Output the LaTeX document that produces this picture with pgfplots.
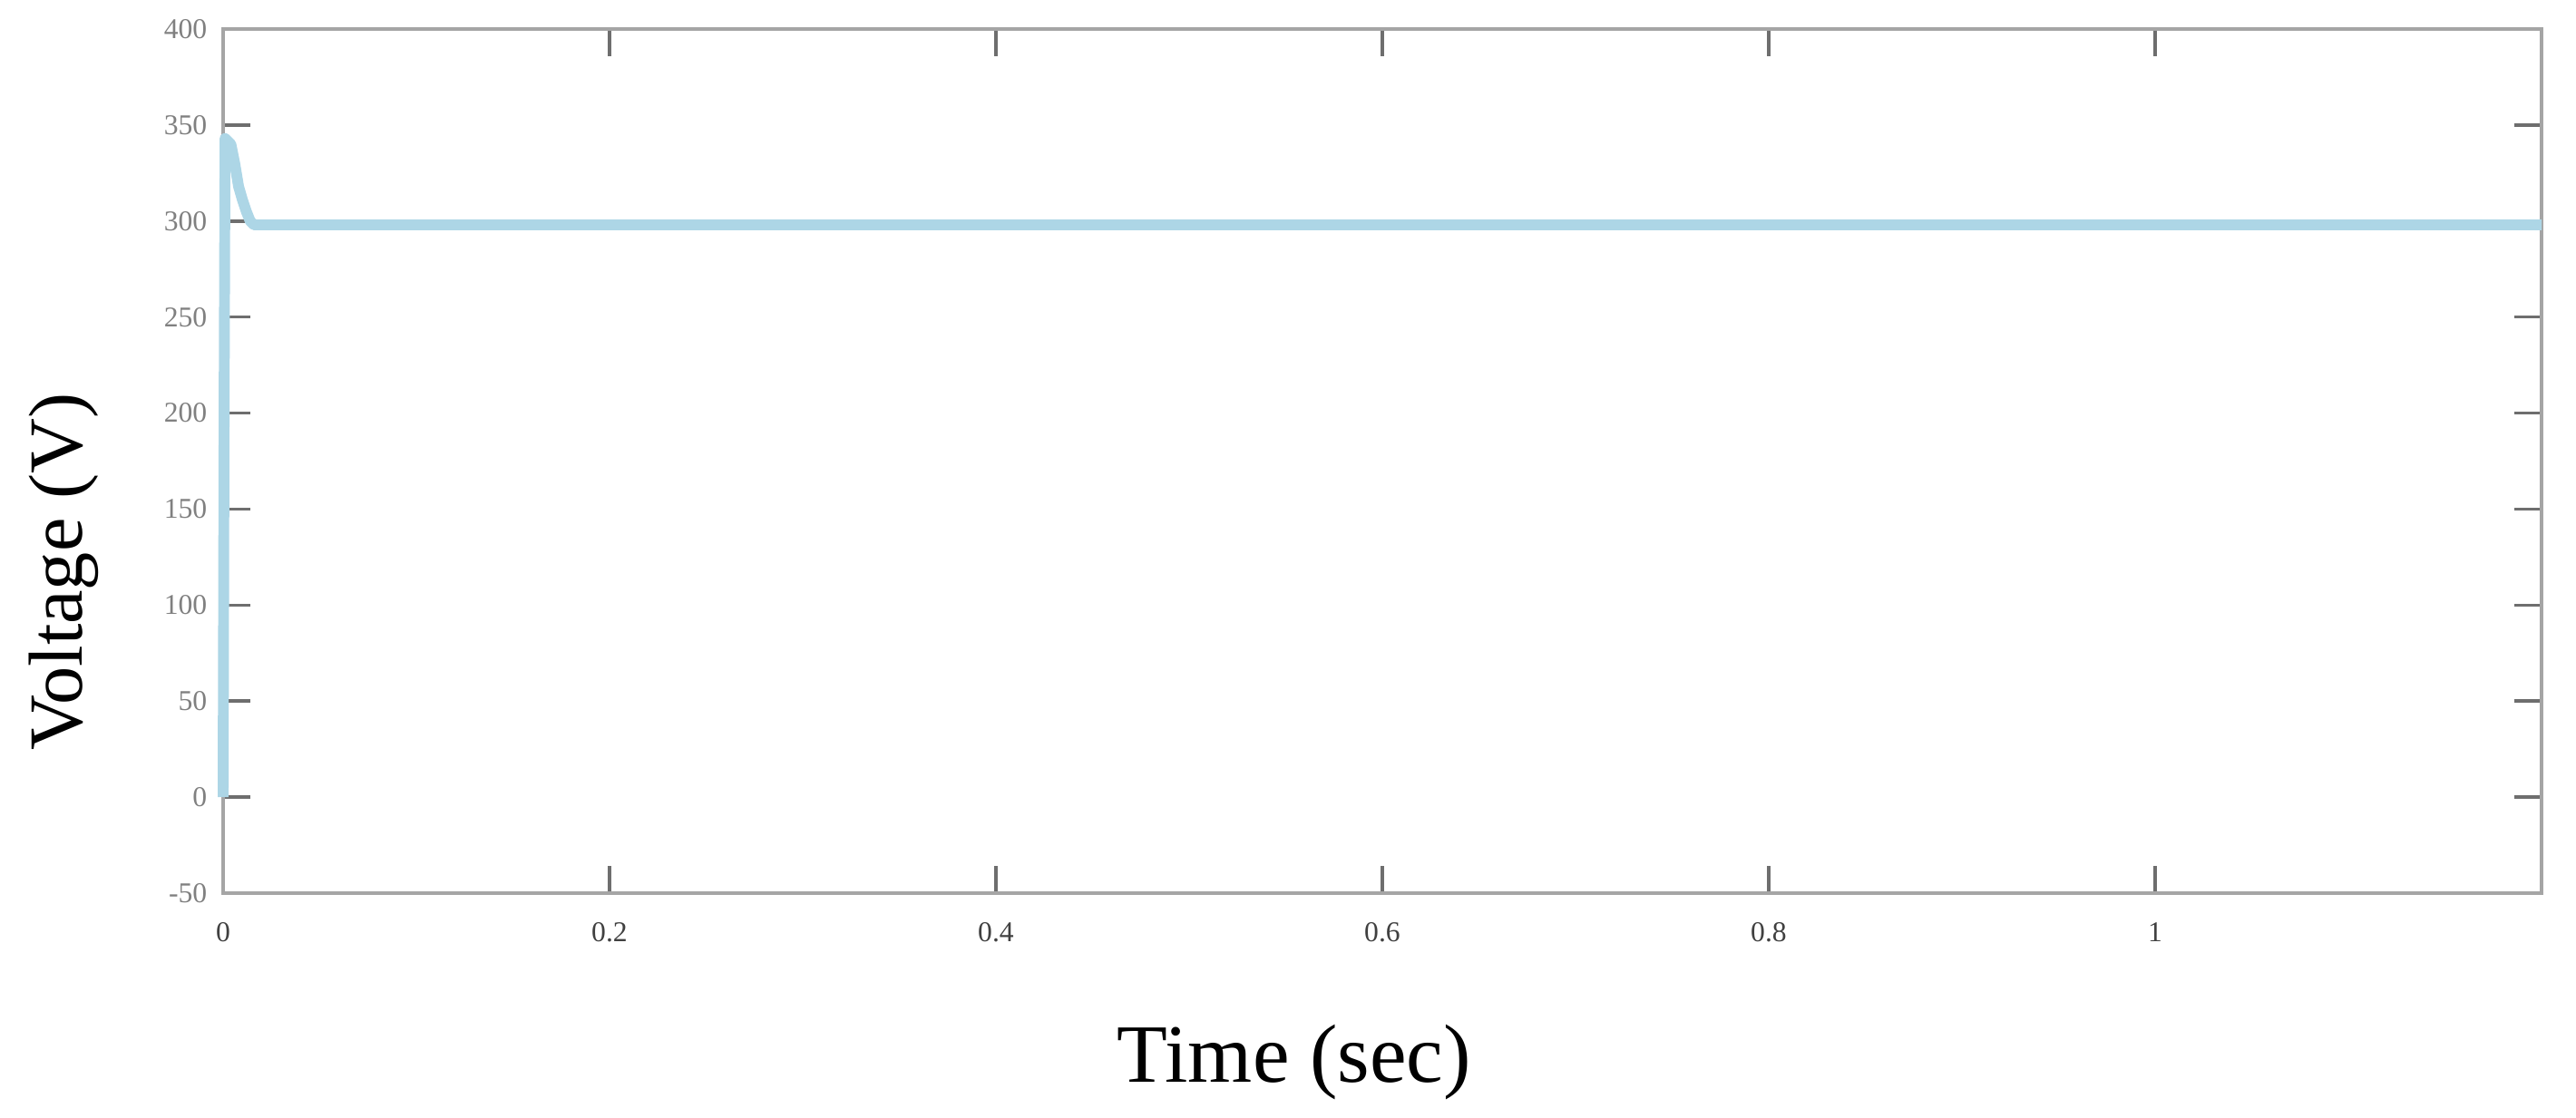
\documentclass[border=0pt]{standalone}
\usepackage{fontspec}
\setmainfont{Liberation Serif}
\usepackage{pgfplots}
\pgfplotsset{compat=1.18}
\definecolor{axgray}{RGB}{165,165,165}
\definecolor{tickgray}{RGB}{110,110,110}
\definecolor{vblue}{RGB}{173,214,230}
\begin{document}
\begin{tikzpicture}
\useasboundingbox (-2.46cm,-2.48cm) rectangle (25.94cm,9.85cm);
\begin{axis}[
  scale only axis,
  width=25.56cm, height=9.53cm,
  xmin=0, xmax=1.2, ymin=-50, ymax=400,
  xtick={0,0.2,0.4,0.6,0.8,1},
  xticklabels={0,0.2,0.4,0.6,0.8,1},
  ytick={-50,0,50,100,150,200,250,300,350,400},
  axis line style={axgray, line width=1.3pt},
  major tick length=0.3cm,
  tick style={tickgray, line width=1pt},
  tick align=inside,
  /pgf/number format/assume math mode=true,
  tick label style={font=\fontsize{9}{10}\selectfont, inner sep=0pt},
  xticklabel style={black!75, yshift=-0.32cm},
  yticklabel style={gray, xshift=-0.17cm},
  clip=false,
  xlabel={Time (sec)},
  ylabel={Voltage (V)},
  label style={black},
  xlabel style={font=\fontsize{26}{30}\selectfont, at={(rel axis cs:0.462,-0.2193)}, anchor=base},
  ylabel style={font=\fontsize{24}{28}\selectfont, at={(rel axis cs:-0.061,0.372)}, anchor=base, rotate=0},
]
\addplot[vblue, line width=3.4pt, line join=round] coordinates {
  (0,0) (0.0005,200) (0.001,343) (0.004,340) (0.006,330) (0.008,318)
  (0.010,311) (0.012,305) (0.014,300) (0.016,298) (0.05,298) (1.2,298)
};
\end{axis}
\end{tikzpicture}
\end{document}
